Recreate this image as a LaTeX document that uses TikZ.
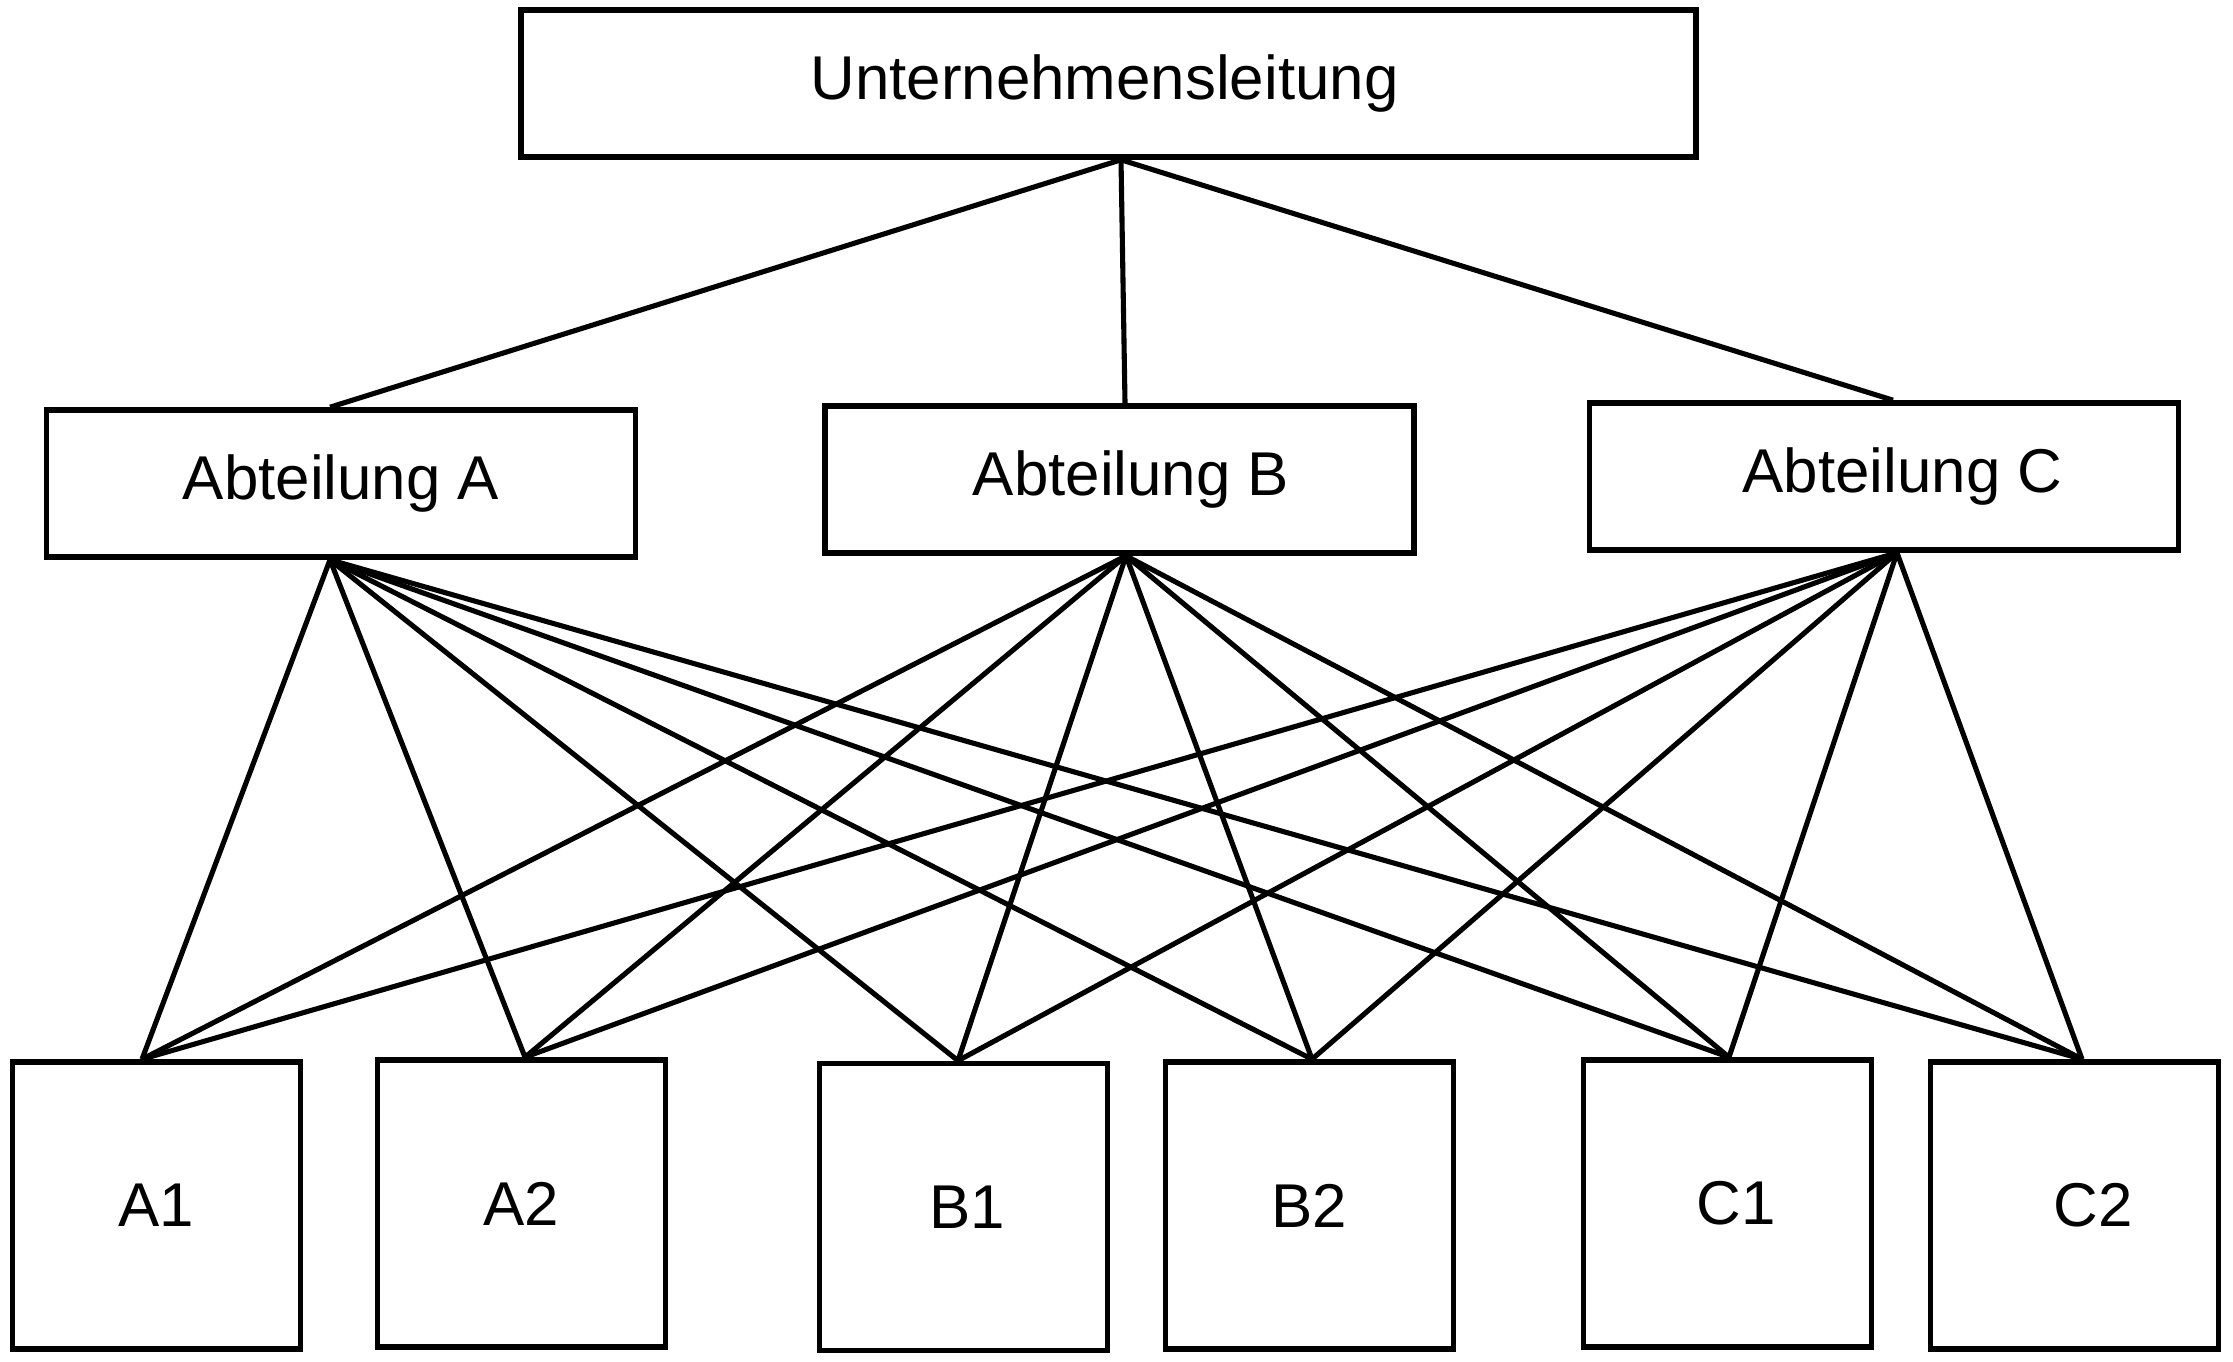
\documentclass[tikz,border=0pt]{standalone}
\usepackage{fontspec}
\setmainfont{Liberation Sans}
\usepackage{tikz}
\usetikzlibrary{positioning}
\tikzset{
  leitung/.style={draw, line width=1.6pt, fill=white, minimum width=117.5mm, minimum height=14.7mm, font=\fontsize{17.6}{21}\selectfont},
  abteilung/.style={draw, line width=1.6pt, fill=white, minimum width=58.9mm, minimum height=14.7mm, font=\fontsize{17.6}{21}\selectfont},
  stelle/.style={draw, line width=1.6pt, fill=white, minimum width=28.8mm, minimum height=28.7mm, font=\fontsize{17.6}{21}\selectfont},
  verbindung/.style={line width=1.45pt},
}
\begin{document}
\begin{tikzpicture}[x=0.1mm,y=-0.1mm]
  \useasboundingbox (0,0) rectangle (2233,1361);
  \node[leitung] (ul) at (1108.5,83.5) {Unternehmensleitung\hspace*{0.8mm}};
  \node[abteilung] (abtA) at (341,483.5) {Abteilung A};
  \node[abteilung] (abtB) at (1119.5,479.5) {\hspace*{2.3mm}Abteilung B};
  \node[abteilung] (abtC) at (1884,476.5) {\hspace*{3.7mm}Abteilung C};
  \node[stelle] (A1) at (156.5,1205.5) {A1};
  \node[stelle] (A2) at (521.5,1203.5) {A2};
  \node[stelle] (B1) at (963.5,1207) {\hspace*{0.8mm}B1};
  \node[stelle] (B2) at (1309.5,1205.5) {B2};
  \node[stelle] (C1) at (1727.5,1203.5) {\hspace*{1.7mm}C1};
  \node[stelle] (C2) at (2074.5,1205.5) {\hspace*{3.7mm}C2};
  % Leitung zu den Abteilungen
  \draw[verbindung] ([xshift=1.25mm]ul.south) -- ([xshift=-1.1mm]abtA.north);
  \draw[verbindung] ([xshift=1.25mm]ul.south) -- ([xshift=0.55mm]abtB.north);
  \draw[verbindung] ([xshift=1.25mm]ul.south) -- ([xshift=0.9mm]abtC.north);
  % jede Abteilung zu jeder Stelle
  \coordinate (oA) at ([xshift=-1.1mm]abtA.south);
  \coordinate (oB) at ([xshift=0.65mm]abtB.south);
  \coordinate (oC) at ([xshift=1.3mm]abtC.south);
  \coordinate (uA1) at ([xshift=-1.45mm]A1.north);
  \coordinate (uA2) at ([xshift=0.35mm]A2.north);
  \coordinate (uB1) at ([xshift=-0.55mm]B1.north);
  \coordinate (uB2) at ([xshift=0.25mm]B2.north);
  \coordinate (uC1) at ([xshift=0.15mm]C1.north);
  \coordinate (uC2) at ([xshift=0.75mm]C2.north);
  \foreach \o in {oA,oB,oC} {
    \foreach \u in {uA1,uA2,uB1,uB2,uC1,uC2} {\draw[verbindung] (\o) -- (\u);}
  }
\end{tikzpicture}
\end{document}
